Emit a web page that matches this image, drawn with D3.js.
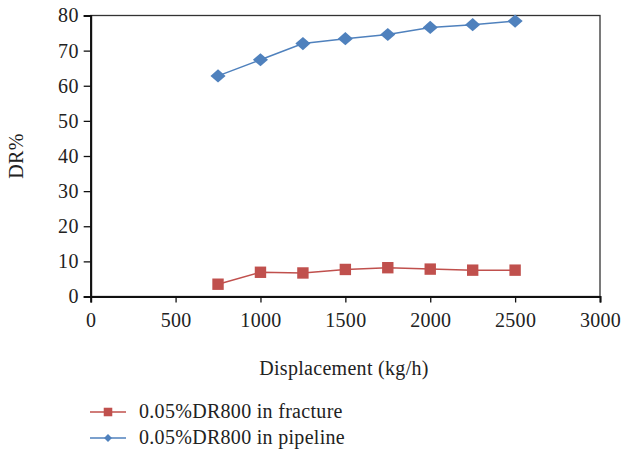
<!DOCTYPE html>
<html><head><meta charset="utf-8">
<script src="https://cdn.jsdelivr.net/npm/d3@7"></script>
<style>body{margin:0;background:#fff;} svg{display:block;} svg text{font-family:'Liberation Serif','Times New Roman','DejaVu Serif',serif !important;fill:#222;letter-spacing:0.3px;}</style>
</head><body><svg id="c" width="621" height="457"></svg>
<script>
const xValues = [750, 1000, 1250, 1500, 1750, 2000, 2250, 2500];
const fractureValues = [3.5, 6.9, 6.7, 7.7, 8.2, 7.8, 7.5, 7.5];
const pipelineValues = [62.8, 67.4, 72.0, 73.4, 74.6, 76.6, 77.4, 78.4];
const xTicks = [0, 500, 1000, 1500, 2000, 2500, 3000];
const yTicks = [0, 10, 20, 30, 40, 50, 60, 70, 80];
const seriesNames = ["0.05%DR800 in fracture", "0.05%DR800 in pipeline"];
const xTitle = "Displacement (kg/h)";
const yTitle = "DR%";

const svg = d3.select("#c");
const L = 90.7, R = 600, T = 15.5, B = 296.5;
const x = d3.scaleLinear().domain([0, 3000]).range([L, R]);
const y = d3.scaleLinear().domain([0, 80]).range([B, T]);
const red = "#C0504D", blue = "#4F81BD";

svg.append("rect").attr("x", L).attr("y", T).attr("width", R - L).attr("height", B - T)
  .attr("fill", "none").attr("stroke", "#333").attr("stroke-width", 1.3);

const yAxis = svg.append("g").attr("transform", `translate(${L},0)`)
  .call(d3.axisLeft(y).tickValues(yTicks).tickSize(7).tickPadding(5).tickFormat(d3.format("d")));
const xAxis = svg.append("g").attr("transform", `translate(0,${B})`)
  .call(d3.axisBottom(x).tickValues(xTicks).tickSize(6).tickPadding(10).tickFormat(d3.format("d")));
[yAxis, xAxis].forEach(a => {
  a.attr("font-family", null).attr("font-size", null);
  a.select(".domain").attr("stroke", "#111").attr("stroke-width", 2);
  a.selectAll(".tick line").attr("stroke", "#111").attr("stroke-width", 1.3);
  a.selectAll("text").style("font-size", "20px").attr("fill", "#222");
});

const line = d3.line().x(d => x(d[0])).y(d => y(d[1]));
const fr = xValues.map((v, i) => [v, fractureValues[i]]);
const pp = xValues.map((v, i) => [v, pipelineValues[i]]);

svg.append("path").datum(pp).attr("d", line).attr("fill", "none").attr("stroke", blue).attr("stroke-width", 1.5);
svg.append("path").datum(fr).attr("d", line).attr("fill", "none").attr("stroke", red).attr("stroke-width", 1.5);

const diamond = d3.symbol().type(d3.symbolDiamond2).size(110);
const square = d3.symbol().type(d3.symbolSquare).size(130);
svg.selectAll(".pp").data(pp).join("path").attr("d", diamond)
  .attr("transform", d => `translate(${x(d[0])},${y(d[1])}) scale(1.15,1)`).attr("fill", blue);
svg.selectAll(".fr").data(fr).join("path").attr("d", square)
  .attr("transform", d => `translate(${x(d[0])},${y(d[1])})`).attr("fill", red);

svg.append("text").attr("x", 344).attr("y", 375).attr("text-anchor", "middle").style("font-size", "20px").text(xTitle);
svg.append("text").attr("transform", "translate(23,156) rotate(-90)").attr("text-anchor", "middle").style("font-size", "20px").text(yTitle);

const legY = [412, 438];
const lg = svg.append("g");
[[red, square, 0.75], [blue, diamond, 0.6]].forEach(([c, sym, s], i) => {
  lg.append("line").attr("x1", 90).attr("x2", 126).attr("y1", legY[i]).attr("y2", legY[i]).attr("stroke", c).attr("stroke-width", 1.5);
  lg.append("path").attr("d", sym).attr("transform", `translate(108,${legY[i]}) scale(${s})`).attr("fill", c);
  lg.append("text").attr("x", 139).attr("y", legY[i] + 6).style("font-size", "20px").text(seriesNames[i]);
});
</script></body></html>
